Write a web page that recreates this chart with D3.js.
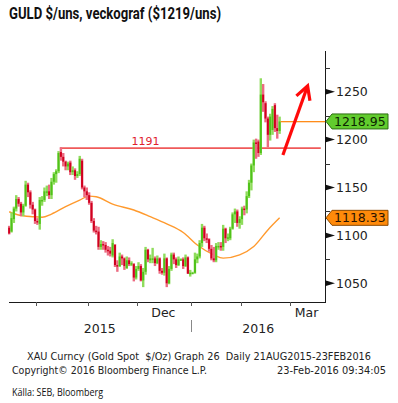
<!DOCTYPE html>
<html>
<head>
<meta charset="utf-8">
<script src="https://cdn.jsdelivr.net/npm/d3@7"></script>
<style>
  body { margin: 0; background: #fff; }
  svg { display: block; }
  text { font-family: "DejaVu Sans", Verdana, sans-serif; fill: #222; }
</style>
</head>
<body>
<svg id="chart" width="398" height="403"></svg>
<script>
// XAU daily bars, one row per weekday from 15 Sep 2015
// [open, high, low, close]
const sepBars = [
  [1108, 1110, 1101, 1102], [1104, 1124, 1103, 1118], [1117, 1130, 1113, 1128],
  [1128, 1142, 1125, 1138], [1138, 1140, 1130, 1133], [1133, 1135, 1120, 1124],
  [1124, 1133, 1120, 1131], [1131, 1157, 1130, 1153], [1153, 1155, 1140, 1145],
  [1145, 1147, 1128, 1132], [1132, 1135, 1122, 1127], [1127, 1128, 1112, 1115]
];
const octBars = [
  [1115, 1118, 1111, 1114], [1112, 1140, 1106, 1137], [1137, 1141, 1131, 1137],
  [1137, 1150, 1135, 1146], [1146, 1152, 1141, 1146], [1146, 1153, 1138, 1142],
  [1142, 1160, 1138, 1156], [1156, 1166, 1153, 1164], [1164, 1169, 1155, 1167],
  [1167, 1188, 1165, 1186], [1187, 1192, 1178, 1182], [1182, 1186, 1172, 1177],
  [1177, 1178, 1168, 1172], [1172, 1177, 1168, 1175], [1176, 1178, 1163, 1166],
  [1166, 1172, 1163, 1168], [1168, 1170, 1158, 1162], [1162, 1167, 1160, 1164],
  [1164, 1183, 1162, 1180], [1178, 1180, 1148, 1150], [1150, 1152, 1140, 1146],
  [1146, 1150, 1137, 1142]
];
const novBars = [
  [1142, 1145, 1132, 1134], [1134, 1136, 1113, 1115], [1115, 1118, 1103, 1105],
  [1105, 1110, 1101, 1104], [1104, 1109, 1085, 1088], [1088, 1095, 1085, 1091],
  [1091, 1094, 1085, 1090], [1090, 1093, 1082, 1085], [1085, 1089, 1079, 1084],
  [1084, 1088, 1078, 1081], [1079, 1096, 1077, 1092], [1090, 1091, 1067, 1069],
  [1069, 1074, 1062, 1068], [1068, 1082, 1067, 1078], [1078, 1080, 1069, 1076],
  [1076, 1077, 1064, 1068], [1066, 1078, 1065, 1074], [1074, 1077, 1068, 1070],
  [1070, 1073, 1068, 1071], [1070, 1071, 1052, 1056], [1056, 1068, 1054, 1065]
];
const decBars = [
  [1065, 1072, 1063, 1068], [1068, 1070, 1052, 1053], [1053, 1066, 1046, 1062],
  [1062, 1088, 1059, 1085], [1085, 1086, 1072, 1075], [1074, 1080, 1071, 1076],
  [1076, 1087, 1071, 1076], [1076, 1078, 1068, 1071], [1071, 1079, 1070, 1076],
  [1076, 1077, 1060, 1063], [1063, 1066, 1059, 1061], [1061, 1081, 1058, 1076],
  [1076, 1077, 1046, 1050], [1050, 1068, 1049, 1065], [1065, 1082, 1063, 1080],
  [1080, 1082, 1070, 1075], [1075, 1077, 1066, 1069], [1069, 1078, 1068, 1075],
  [1075, 1076, 1074, 1075], [1075, 1077, 1065, 1068], [1068, 1080, 1067, 1077],
  [1077, 1078, 1060, 1060], [1060, 1064, 1057, 1061]
];
const janBars = [
  [1061, 1062, 1060, 1061], [1061, 1082, 1060, 1075], [1075, 1081, 1071, 1078],
  [1078, 1095, 1076, 1092], [1092, 1112, 1088, 1108], [1108, 1110, 1094, 1097],
  [1097, 1102, 1092, 1096], [1096, 1097, 1083, 1086], [1086, 1090, 1074, 1076],
  [1076, 1088, 1072, 1074], [1074, 1092, 1072, 1089], [1089, 1093, 1085, 1089],
  [1089, 1093, 1084, 1088], [1088, 1111, 1084, 1107], [1107, 1108, 1092, 1097],
  [1097, 1102, 1094, 1098], [1097, 1109, 1095, 1107], [1107, 1124, 1106, 1122],
  [1122, 1128, 1113, 1125], [1125, 1127, 1109, 1113], [1113, 1120, 1107, 1117]
];
const febBars = [
  [1117, 1130, 1111, 1128], [1128, 1131, 1121, 1127], [1127, 1146, 1123, 1141],
  [1141, 1158, 1139, 1155], [1155, 1175, 1147, 1173], [1173, 1200, 1166, 1197],
  [1197, 1201, 1180, 1196], [1198, 1200, 1182, 1186], [1186, 1264, 1184, 1247],
  [1247, 1258, 1229, 1239], [1238, 1240, 1218, 1222], [1222, 1224, 1192, 1205],
  [1205, 1227, 1199, 1224], [1210, 1235, 1205, 1232], [1236, 1238, 1208, 1212],
  [1212, 1226, 1201, 1209], [1209, 1224, 1206, 1218.95]
];

// moving average (orange curve), read at a few dates
const maDates = ["2015-09-15", "2015-09-21", "2015-09-29", "2015-10-05", "2015-10-09",
  "2015-10-19", "2015-10-27", "2015-11-02", "2015-11-05", "2015-11-16", "2015-11-27",
  "2015-12-08", "2015-12-17", "2015-12-28", "2016-01-05", "2016-01-14", "2016-01-20",
  "2016-01-29", "2016-02-08", "2016-02-16", "2016-02-23"];
const maValues = [1124.7, 1121.3, 1119.5, 1118.9, 1122.3, 1130, 1136.9, 1141, 1140.3,
  1132.7, 1126.5, 1119.5, 1112, 1103, 1090, 1079.7, 1076.3, 1079.7, 1088.4, 1105.7, 1118.33];

const priceTicks = [1050, 1100, 1150, 1200, 1250];
const minorTicks = [1075, 1125, 1175, 1225, 1275];
const lastPrice = 1218.95;
const lastMa = 1118.33;
const resistance = 1191;
const monthNames = ["Jan", "Feb", "Mar", "Apr", "May", "Jun", "Jul", "Aug", "Sep", "Oct", "Nov", "Dec"];
const labelMonths = ["Sep", "Dec", "Mar"];
const yearLabels = ["2015", "2016"];
// arrow drawn by hand on the chart: [bar index, price]
const arrowPts = [[116.4, 1184], [126.9, 1256]];

const svg = d3.select('#chart');
const parse = d3.timeParse('%Y-%m-%d');

const bars = [].concat(sepBars, octBars, novBars, decBars, janBars, febBars);
const days = d3.timeDay.range(new Date(2015, 8, 15), new Date(2016, 2, 31))
  .filter((d) => d.getDay() !== 0 && d.getDay() !== 6);
const dayIndex = (d) => days.findIndex((v) => +v === +d);

const plotLeft = 8;
const plotRight = 325;
const plotTop = 51;
const plotBottom = 302;

const x = d3.scaleLinear().domain([-0.5, 134.3]).range([plotLeft, plotRight]);
const y = d3.scaleLinear().domain([1050, 1250]).range([283.3, 91.7]);
const crisp = (v) => Math.round(v) + 0.5;

// title
svg.append('text')
  .attr('x', 9).attr('y', 19)
  .attr('textLength', 212).attr('lengthAdjust', 'spacingAndGlyphs')
  .style('font-family', 'Roboto, "Noto Sans", sans-serif')
  .style('font-weight', 'bold').style('font-size', '16px').style('fill', '#111')
  .text('GULD $/uns, veckograf ($1219/uns)');

// resistance line
const peakIdx = d3.maxIndex(bars.slice(0, 40), (b) => b[1]);
svg.append('line')
  .attr('x1', x(peakIdx) - 1).attr('x2', x(132.5))
  .attr('y1', y(resistance)).attr('y2', y(resistance))
  .attr('stroke', '#ee4848').attr('stroke-width', 1.8).attr('opacity', 0.9);
svg.append('text')
  .attr('x', x(58)).attr('y', y(resistance) - 3)
  .attr('text-anchor', 'middle')
  .style('font-size', '11px').style('fill', '#e0202c')
  .text(resistance);

// moving average
const ma = maDates.map((d, i) => ({ i: dayIndex(parse(d)), v: maValues[i] }));
svg.append('path')
  .datum(ma)
  .attr('fill', 'none')
  .attr('stroke', '#ff9a2e')
  .attr('stroke-width', 1.4)
  .attr('d', d3.line().x((d) => x(d.i)).y((d) => y(d.v)).curve(d3.curveMonotoneX));

// bars
const barG = svg.append('g');
bars.forEach((b, i) => {
  const up = b[3] >= b[0];
  barG.append('rect')
    .attr('x', x(i) - 1.2).attr('width', 2.4)
    .attr('y', y(b[1])).attr('height', Math.max(1, y(b[2]) - y(b[1])))
    .attr('fill', up ? '#8fdc5c' : '#ec6a80');
  barG.append('rect')
    .attr('x', x(i) - 1).attr('width', 2)
    .attr('y', y(Math.max(b[0], b[3])))
    .attr('height', Math.max(1.5, Math.abs(y(b[0]) - y(b[3]))))
    .attr('fill', up ? '#4fc21a' : '#d0001f');
});

// last price line
const lastIdx = bars.length - 1;
svg.append('rect')
  .attr('x', x(lastIdx) + 1).attr('width', plotRight - x(lastIdx) - 1)
  .attr('y', Math.round(y(lastPrice))).attr('height', 1.3)
  .attr('fill', '#ff8c1a');

// hand drawn arrow
const a0 = [x(arrowPts[0][0]), y(arrowPts[0][1])];
const a1 = [x(arrowPts[1][0]), y(arrowPts[1][1])];
const ang = Math.atan2(a0[1] - a1[1], a0[0] - a1[0]);
const head = 15;
const spread = 0.5;
svg.append('path')
  .attr('d', `M${a0[0]},${a0[1]}L${a1[0]},${a1[1]}`)
  .attr('stroke', '#ff0a0a').attr('stroke-width', 3.2).attr('fill', 'none');
svg.append('path')
  .attr('d', `M${a1[0] + head * Math.cos(ang - spread)},${a1[1] + head * Math.sin(ang - spread)}`
    + `L${a1[0]},${a1[1]}`
    + `L${a1[0] + head * Math.cos(ang + spread)},${a1[1] + head * Math.sin(ang + spread)}`)
  .attr('stroke', '#ff0a0a').attr('stroke-width', 3.2).attr('fill', 'none')
  .attr('stroke-linejoin', 'miter');

// axes lines
svg.append('line')
  .attr('x1', crisp(plotRight)).attr('x2', crisp(plotRight)).attr('y1', plotTop).attr('y2', plotBottom)
  .attr('stroke', '#1a1a1a').attr('stroke-width', 1);
svg.append('line')
  .attr('x1', plotLeft + 1).attr('x2', plotRight + 1).attr('y1', crisp(plotBottom)).attr('y2', crisp(plotBottom))
  .attr('stroke', '#1a1a1a').attr('stroke-width', 1);

// right axis
svg.selectAll('.minor')
  .data(minorTicks)
  .enter()
  .append('line')
  .attr('x1', plotRight).attr('x2', plotRight + 5)
  .attr('y1', (d) => crisp(y(d))).attr('y2', (d) => crisp(y(d)))
  .attr('stroke', '#333');
svg.selectAll('.major')
  .data(priceTicks)
  .enter()
  .append('path')
  .attr('d', (d) => `M${plotRight},${y(d) - 3}L${plotRight + 10},${y(d)}L${plotRight},${y(d) + 3}Z`)
  .attr('fill', '#111');
svg.selectAll('.ylab')
  .data(priceTicks)
  .enter()
  .append('text')
  .attr('x', plotRight + 11).attr('y', (d) => y(d) + 4.5)
  .style('font-size', '12.5px')
  .text((d) => d);

// value tags
function tag(v, fill, stroke, color) {
  const cy = y(v);
  svg.append('path')
    .attr('d', `M${plotRight + 1},${cy}L${plotRight + 7},${cy - 7.5}L${plotRight + 63},${cy - 7.5}`
      + `L${plotRight + 63},${cy + 7.5}L${plotRight + 7},${cy + 7.5}Z`)
    .attr('fill', fill).attr('stroke', stroke).attr('stroke-width', 1);
  svg.append('text')
    .attr('x', plotRight + 9).attr('y', cy + 4.5)
    .style('font-size', '12.5px').style('fill', color)
    .text(d3.format('.2f')(v));
}
tag(lastPrice, '#62cc2e', '#2d6e12', '#0d2600');
tag(lastMa, '#ff8a0a', '#8c4a00', '#2a1200');

// bottom axis: month boundaries
const bounds = [];
days.forEach((d, i) => {
  if (i > 0 && d.getMonth() !== days[i - 1].getMonth()) bounds.push({ i: i - 0.5, d });
});
svg.selectAll('.xt')
  .data(bounds.filter((b) => x(b.i) < plotRight))
  .enter()
  .append('line')
  .attr('x1', (b) => crisp(x(b.i))).attr('x2', (b) => crisp(x(b.i)))
  .attr('y1', plotBottom).attr('y2', plotBottom + 4)
  .attr('stroke', '#555');

// month labels, centred in the visible part of the month
const edges = [{ i: -0.5, d: days[0] }].concat(bounds);
const monthSpans = edges.map((b, k) => {
  const x0 = Math.max(plotLeft, x(b.i));
  const x1 = k + 1 < edges.length ? Math.min(plotRight, x(edges[k + 1].i)) : plotRight;
  return { name: monthNames[b.d.getMonth()], x0, x1 };
}).filter((s) => s.x1 - s.x0 > 30 && labelMonths.includes(s.name));
svg.selectAll('.ml')
  .data(monthSpans)
  .enter()
  .append('text')
  .attr('x', (s) => (s.x0 + s.x1) / 2 - 1).attr('y', 316.5)
  .attr('text-anchor', 'middle')
  .style('font-size', '12.5px')
  .text((s) => s.name);

// year labels with separator
const yearStart = x(bounds.find((b) => b.d.getMonth() === 0).i);
const yearSpans = [[plotLeft, yearStart], [yearStart, plotRight]];
svg.selectAll('.yl')
  .data(yearLabels)
  .enter()
  .append('text')
  .attr('x', (d, k) => (yearSpans[k][0] + yearSpans[k][1]) / 2).attr('y', 333)
  .attr('text-anchor', 'middle')
  .style('font-size', '12.5px')
  .text((d) => d);
svg.append('line')
  .attr('x1', crisp(yearStart)).attr('x2', crisp(yearStart))
  .attr('y1', 320).attr('y2', 332)
  .attr('stroke', '#888');

// footer
const foot = [
  { t: 'XAU Curncy (Gold Spot  $/Oz) Graph 26  Daily 21AUG2015-23FEB2016', x: 27, y: 360, w: 344 },
  { t: 'Copyright\u00a9 2016 Bloomberg Finance L.P.', x: 12, y: 374, w: 195 },
  { t: '23-Feb-2016 09:34:05', x: 277, y: 374, w: 109 },
];
svg.selectAll('.foot')
  .data(foot)
  .enter()
  .append('text')
  .attr('x', (d) => d.x).attr('y', (d) => d.y)
  .attr('textLength', (d) => d.w).attr('lengthAdjust', 'spacingAndGlyphs')
  .style('font-size', '10px')
  .style('white-space', 'pre')
  .text((d) => d.t);

svg.append('text')
  .attr('x', 12).attr('y', 396)
  .attr('textLength', 91).attr('lengthAdjust', 'spacingAndGlyphs')
  .style('font-family', '"Open Sans", "Noto Sans", sans-serif')
  .style('font-size', '11px').style('fill', '#111')
  .text('Källa: SEB, Bloomberg');
</script>
</body>
</html>
